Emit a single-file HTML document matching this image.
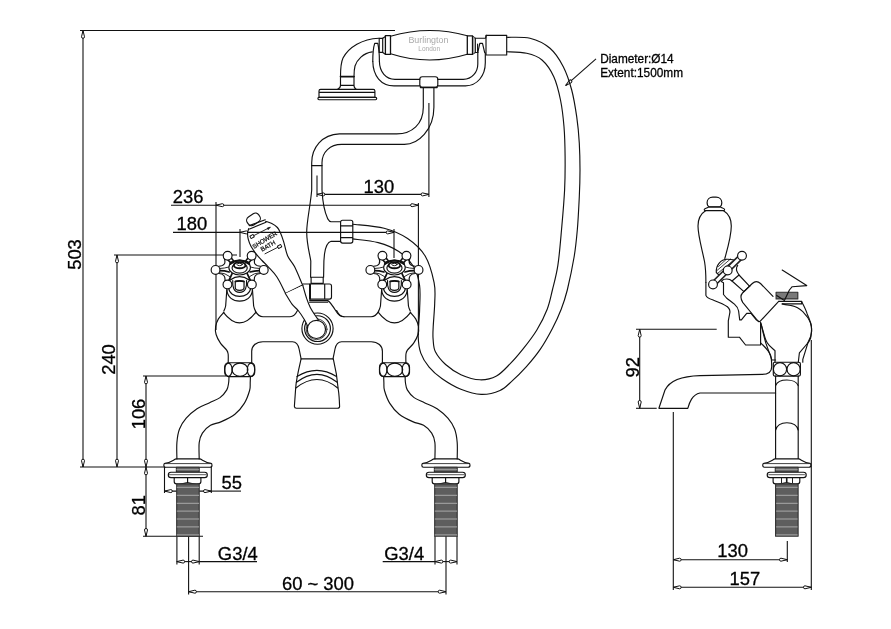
<!DOCTYPE html>
<html><head><meta charset="utf-8">
<style>
html,body{margin:0;padding:0;background:#fff;width:891px;height:629px;overflow:hidden}
svg{display:block;will-change:transform}
text{font-family:"Liberation Sans",sans-serif;fill:#000}
</style></head>
<body>
<svg width="891" height="629" viewBox="0 0 891 629">
<defs>
<marker id="ar" viewBox="-9 -3 10 6" refX="0" refY="0" markerWidth="10" markerHeight="6" markerUnits="userSpaceOnUse" orient="auto-start-reverse">
<path d="M0,0 L-6.3,-1.5 A1.5,1.5 0 0 0 -6.3,1.5 Z" fill="#fff" stroke="#111" stroke-width="1"/>
</marker>
</defs>
<g id="dims" fill="none" stroke="#111" stroke-width="1.1">
<!-- 503 -->
<path d="M80,30.5 H395"/>
<path d="M83,30.5 V467" marker-start="url(#ar)" marker-end="url(#ar)"/>
<path d="M80,467 H166"/>
<!-- 240 -->
<path d="M114,255 H237"/>
<path d="M117,255 V467" marker-start="url(#ar)" marker-end="url(#ar)"/>
<!-- 106 / 81 -->
<path d="M143,376 H226"/>
<path d="M146,376 V467" marker-start="url(#ar)" marker-end="url(#ar)"/>
<path d="M146,467 V536.3" marker-start="url(#ar)" marker-end="url(#ar)"/>
<path d="M143,536.3 H203"/>
<!-- 236 -->
<path d="M171,205.2 H216"/>
<path d="M216,205.2 H418.4" marker-start="url(#ar)" marker-end="url(#ar)"/>
<path d="M216,202 V330"/>
<path d="M418.4,203 V335"/>
<!-- 180 -->
<path d="M173,232.4 H240"/>
<path d="M240,232.4 H394" marker-start="url(#ar)" marker-end="url(#ar)"/>
<path d="M240,229 V257"/>
<path d="M394,229 V258"/>
<!-- 130 top -->
<path d="M317,194.4 H428.9" marker-start="url(#ar)" marker-end="url(#ar)"/>
<path d="M317,175.6 V197"/>
<path d="M428.9,103 V197"/>
<!-- 55 -->
<path d="M164.5,467 V493"/>
<path d="M211.3,467 V493"/>
<path d="M164.5,491.1 H211.3" marker-start="url(#ar)" marker-end="url(#ar)"/>
<path d="M211.3,491.1 H241"/>
<!-- G3/4 left -->
<path d="M176.9,536 V564.4"/>
<path d="M199.2,536 V564.4"/>
<path d="M188.6,536 V594.4"/>
<path d="M176.8,561.6 H199.3" marker-start="url(#ar)" marker-end="url(#ar)"/>
<path d="M199.3,561.6 H257"/>
<!-- G3/4 right -->
<path d="M435,536 V564.4"/>
<path d="M457,536 V564.4"/>
<path d="M446,536 V594.4"/>
<path d="M435,561.6 H457" marker-start="url(#ar)" marker-end="url(#ar)"/>
<path d="M382.7,561.6 H435"/>
<!-- 60~300 -->
<path d="M188.6,591.7 H446" marker-start="url(#ar)" marker-end="url(#ar)"/>
<!-- 92 -->
<path d="M636,329.3 H716.7"/>
<path d="M639.7,329.3 V408.3" marker-start="url(#ar)" marker-end="url(#ar)"/>
<path d="M636,408.3 H656.7"/>
<!-- 130 side / 157 -->
<path d="M673.3,412 V590"/>
<path d="M787.3,541 V562"/>
<path d="M811.3,340 V590"/>
<path d="M673.3,559.7 H787.3" marker-start="url(#ar)" marker-end="url(#ar)"/>
<path d="M673.3,587.3 H811.3" marker-start="url(#ar)" marker-end="url(#ar)"/>
<!-- hose leader -->
<path d="M596,58.9 L565.6,85.6" marker-end="url(#ar)"/>
</g>

<g id="front" fill="none" stroke="#111" stroke-width="1.15" stroke-linejoin="round" stroke-linecap="round">
<!-- handset -->
<path d="M390.5,36.3 Q428.8,25 467.3,35.8"/>
<path d="M390.5,53.8 Q428.8,66 467.3,54.3"/>
<path d="M385.4,35.6 H390.5 V54.3 H385.4 Z" stroke-width="1.3"/>
<path d="M382.7,38.2 L385.4,36.4 M382.7,52.6 L385.4,54.3"/>
<path d="M379.2,38.4 H382.7 V52.4 H379.2 Z"/>
<path d="M467.3,35.8 H472.5 V54.3 H467.3 Z" stroke-width="1.3"/>
<path d="M472.5,36.3 L475.3,38.2 V52.5 L472.5,54.2"/>
<path d="M473.8,37.6 V53" stroke="#999" stroke-width="1.4"/>
<path d="M475.3,38.2 H485.6 L486.3,35.3 M475.3,52.5 H478"/>
<path d="M477.6,52.5 V44"/>
<rect x="486" y="35.3" width="20.7" height="19.7"/>
<text x="428.4" y="43.4" font-size="8.9" text-anchor="middle" stroke="none" style="fill:#aaa">Burlington</text>
<text x="429.2" y="50.7" font-size="6.5" text-anchor="middle" stroke="none" style="fill:#aaa">London</text>
<!-- cradle -->
<path d="M372.8,61.3 C372.8,54 373.5,47 374.7,43.4 H377.8 C378.6,47 379.4,54 379.4,61.3"/>
<path d="M372.8,61.3 C373,76 381,85.8 394,85.8 H419.8 M437.8,85.8 H465.6 C477,85.8 485.3,76 485.3,62.8 V52.8"/>
<path d="M379.4,61.3 C379.5,72 386,79.3 395,79.3 H419.8 M437.8,79.3 H463.3 C472,79.3 477.8,72 477.8,63.9 V52.5 L479.8,43.4 H482.5 L484.7,52.7"/>
<rect x="419.8" y="76.7" width="18" height="10.5" rx="2.5"/>
<path d="M420.5,87.6 H437" stroke-width="1.5"/>
<!-- shower head -->
<path d="M378.9,38.2 C362,39 349,47 343,58 C340.7,63 340.5,70 340.5,76.6"/>
<path d="M372.2,51.9 C363,53 357,60 355,66 C354,70 354,73 354,76.6"/>
<path d="M340.5,76.6 H354" stroke-width="1.6"/>
<path d="M340.5,76.6 V85.3 H354 V76.6 M340.5,85.3 C340.5,87.5 339,88.8 337.6,89.3 M354,85.3 C354,87.5 355,88.8 356.2,89.3"/>
<path d="M320.6,89.3 H373.3 Q374.9,89.3 374.9,91 V97.4 H319 V91 Q319,89.3 320.6,89.3 Z M319,92.3 H374.9"/>
<rect x="317.9" y="97.4" width="58.8" height="2.3" rx="1.1"/>
<!-- riser -->
<path d="M423.3,87.5 V107.2 C423.3,124 412,133.9 396.7,133.9 H339.4 C322,134.4 311.7,148 311.7,162.8 V190 C310.5,205 306.6,222 306.7,232.2 C306.8,244 309.5,253 310.8,261 L310.6,277.2"/>
<path d="M433.9,87.5 V107.2 C433.9,130 418,144.4 404.4,144.4 H341.7 C330,144.4 322,152 322,162.8 V190 C322.5,200 324.5,212 327.8,218.9 C329,221 330,221.7 331.1,221.7 H340.6"/>
<path d="M311.7,165.6 H322" stroke-width="1.3"/>
<path d="M340.6,241.3 H331.1 C328,242 325.5,247 324.5,254 L323.9,261 L323.6,277.2"/>
<rect x="340.6" y="220.2" width="12.2" height="22.9" rx="2"/>
<path d="M340.8,225.8 H352.6 M340.8,237.6 H352.6"/>
<!-- hose -->
<path d="M352.8,238.9 C357.0,239.5 370.5,240.5 378.2,242.6 C385.9,244.7 392.9,247.5 398.8,251.5 C404.7,255.5 410.0,260.8 413.5,266.5 C417.0,272.2 418.6,278.4 419.6,285.6 C420.6,292.9 419.8,301.5 419.6,310.0 C419.4,318.5 418.0,329.3 418.2,336.5 C418.4,343.7 419.0,348.0 420.8,353.1 C422.6,358.2 425.6,362.9 429.1,367.1 C432.6,371.3 436.5,374.8 441.8,378.5 C447.1,382.2 454.3,386.7 460.9,389.3 C467.5,391.9 474.7,394.2 481.2,394.4 C487.7,394.6 494.8,392.8 500.0,390.5 C505.2,388.2 507.8,384.8 512.2,380.9 C516.6,377.0 521.5,372.1 526.2,366.9 C530.9,361.6 535.8,355.8 540.2,349.4 C544.6,343.0 548.9,335.2 552.4,328.5 C555.9,321.8 558.7,315.6 561.2,309.2 C563.7,302.8 565.1,298.7 567.3,290.0 C569.4,281.3 572.4,267.0 574.1,257.0 C575.8,247.0 576.4,240.1 577.3,230.0 C578.2,219.9 578.8,206.7 579.3,196.7 C579.8,186.7 580.0,178.9 580.0,170.0 C580.0,161.1 579.8,152.2 579.3,143.3 C578.8,134.4 578.0,125.6 576.7,116.7 C575.4,107.8 573.9,98.3 571.7,90.0 C569.5,81.7 566.9,73.7 563.3,66.7 C559.7,59.8 555.5,53.0 550.0,48.3 C544.5,43.6 537.2,40.1 530.0,38.3 C522.8,36.5 510.6,37.5 506.7,37.3"/>
<path d="M352.8,224.2 C358.0,224.9 375.0,225.8 384.1,228.2 C393.2,230.6 400.7,233.8 407.6,238.5 C414.5,243.2 420.9,248.8 425.3,256.2 C429.7,263.6 432.5,274.8 434.1,282.6 C435.7,290.4 434.9,295.8 434.7,303.2 C434.5,310.6 433.5,320.8 433.2,326.8 C432.9,332.8 432.7,334.9 433.1,339.1 C433.5,343.3 433.3,347.6 435.4,351.8 C437.5,356.0 441.4,360.7 445.6,364.5 C449.9,368.3 455.2,372.1 460.9,374.7 C466.6,377.2 474.1,379.6 480.0,379.8 C485.9,380.0 491.4,378.7 496.5,376.0 C501.6,373.3 506.1,367.8 510.5,363.4 C514.9,359.0 518.3,354.9 522.7,349.4 C527.1,343.9 532.6,336.9 536.7,330.2 C540.8,323.5 544.6,315.9 547.2,309.2 C549.8,302.5 550.6,297.3 552.4,290.0 C554.2,282.7 556.4,275.2 557.9,265.2 C559.4,255.2 560.4,242.5 561.5,230.0 C562.6,217.5 564.0,202.2 564.6,190.0 C565.2,177.8 565.2,167.2 565.1,156.7 C565.0,146.1 564.8,136.2 564.0,126.7 C563.2,117.2 562.2,108.3 560.5,100.0 C558.8,91.7 556.9,83.4 553.8,76.7 C550.7,70.0 546.5,63.9 542.0,60.0 C537.5,56.1 532.6,54.7 526.7,53.3 C520.8,51.9 510.0,52.0 506.7,51.8"/>
<!-- stem ring + diverter nut -->
<rect x="311.1" y="277.2" width="12.1" height="6.1"/>
<path d="M309.6,284 H329.5 Q331.5,284 331.5,286 V297.1 Q331.5,299.1 329.5,299.1 H309.6 Z M324.7,284 V299.1 M302.8,284 H309.6"/>
<path d="M310.1,284.3 V298.8" stroke-width="1.8"/>
<path d="M309.6,300.6 H327.7 M309.6,302.2 H327.7"/>
<path d="M327.7,300.6 C330,301.5 333.5,307 336.6,312 C338,314.5 340,316.7 344,316.7"/>
<!-- diverter lever -->
<rect x="246.6" y="214.6" width="13.8" height="9.6" rx="4" transform="rotate(-34 253.5 219.4)"/>
<path d="M249.2,225.6 L265.2,219.8 M249.6,229 L266,222.2"/>
<path d="M248.7,228.6 C248.5,229.3 247.7,231.2 247.6,233.0 C247.5,234.8 247.7,237.2 248.3,239.4 C248.9,241.7 249.7,244.0 251.1,246.5 C252.5,249.0 254.7,252.0 256.5,254.3 C258.3,256.6 260.1,258.4 262.0,260.5 C263.9,262.6 265.5,263.8 268.0,266.6 C270.5,269.4 274.2,272.8 277.1,277.2 C280.0,281.6 284.0,290.5 285.4,293.1"/>
<path d="M265.6,221.3 C266.6,221.7 269.8,222.5 271.8,223.5 C273.8,224.5 275.9,225.9 277.4,227.5 C278.8,229.1 279.4,230.6 280.5,233.0 C281.6,235.4 282.5,238.0 283.7,241.8 C284.9,245.6 285.9,251.9 287.7,256.0 C289.5,260.1 292.0,261.7 294.5,266.6 C297.0,271.5 301.4,282.4 302.8,285.5"/>
<path d="M285.4,293.5 L301.6,285.5"/>
<circle cx="317.5" cy="328.6" r="15.6"/>
<circle cx="317.5" cy="328.6" r="12.9"/>
<circle cx="316.6" cy="329.2" r="10.4" stroke-width="0.8"/>
<path d="M285.4,293.5 C286.5,295.3 290.1,301.6 292.2,304.4 C294.3,307.2 296.2,308.0 298.2,310.5 C300.2,313.0 302.6,316.7 304.3,319.5 C306.0,322.3 307.5,325.8 308.1,327.1 L318.6,320.3 L318.6,320.3 C318.0,319.4 316.3,317.1 314.9,315.0 C313.5,312.9 311.7,310.3 310.3,307.5 C308.9,304.7 307.9,302.1 306.6,298.4 C305.4,294.7 303.4,287.6 302.8,285.5 Z" fill="#fff" stroke="none"/>
<path d="M285.4,293.5 C286.5,295.3 290.1,301.6 292.2,304.4 C294.3,307.2 296.2,308.0 298.2,310.5 C300.2,313.0 302.6,316.7 304.3,319.5 C306.0,322.3 307.5,325.8 308.1,327.1"/>
<path d="M302.8,285.5 C303.4,287.6 305.4,294.7 306.6,298.4 C307.9,302.1 308.9,304.7 310.3,307.5 C311.7,310.3 313.5,312.9 314.9,315.0 C316.3,317.1 318.0,319.4 318.6,320.3"/>
<circle cx="316.4" cy="329.4" r="9.1" fill="#fff"/>
<g stroke="none" fill="#222" font-size="6.3" style="stroke:#111;stroke-width:0.25;letter-spacing:-0.1px">
<text transform="translate(264.5,239.6) rotate(-31)" text-anchor="middle" dominant-baseline="central">SHOWER</text>
<text transform="translate(267.8,245.6) rotate(-29)" text-anchor="middle" dominant-baseline="central">BATH</text>
</g>
<path d="M254,235.5 L269.5,227.6 M265,253.8 L277.6,247.4" stroke-width="0.9"/>
<rect x="250.3" y="235.2" width="3.6" height="2.6" transform="rotate(-28 252.1 236.5)" stroke-width="0.9"/>
<rect x="277.8" y="245.2" width="3.6" height="2.6" transform="rotate(-28 279.6 246.5)" stroke-width="0.9"/>
<path d="M270.2,227.2 L267.2,228 L268,229.5 Z" fill="#111" stroke-width="0.6"/>
<!-- cross handle (local) -->
<defs>
<g id="xh">
<path d="M-12.8,22 L-14,38.5 Q-14.5,41 -15.8,43.5 M12.8,22 L14,38.5 Q14.5,41 15.8,43.5"/>
<path d="M-12.8,22.3 C-12.3,30 -6.5,33.6 0,33.6 C6.5,33.6 12.3,30 12.8,22.3"/>
<path d="M-11,20.5 C-10.5,26 -5.5,28.8 0,28.8 C5.5,28.8 10.5,26 11,20.5"/>
<path d="M-9.5,12.5 Q0,5.8 9.5,12.5" stroke-width="1.4"/>
<path d="M-6.9,13 C-7.4,19 -6,24.8 0,24.8 C6,24.8 7.4,19 6.9,13"/>
<path d="M-4.4,14 Q0,12.8 4.4,14 V20 Q4.4,22.8 0,22.8 Q-4.4,22.8 -4.4,20 Z" stroke-width="1.2"/>
<path d="M-4.2,13.9 Q0,12.7 4.2,13.9" stroke-width="1.8"/>
<path d="M-15.5,-9.5 Q-12.5,-1.5 -21,-1.3 M15.5,-9.5 Q12.5,-1.5 21,-1.3"/>
<path d="M-20.8,6 Q-13.5,6.5 -14.8,14 M20.8,6 Q13.5,6.5 14.8,14"/>
<path d="M-9.2,-4.8 L-13.6,-10 L-10.5,-12.2 L-6,-6.6 Z M9.2,-4.8 L13.6,-10 L10.5,-12.2 L6,-6.6 Z" fill="#fff" stroke-width="1.6"/>
<path d="M-20,1 Q-15,0.8 -10.6,-0.5 M20,1 Q15,0.8 10.6,-0.5 M-20,5.2 Q-14.5,5.5 -10,9 M20,5.2 Q14.5,5.5 10,9" stroke-width="0.9"/>
<path d="M-20,3.2 Q-15,3.2 -10.5,4.5 M20,3.2 Q15,3.2 10.5,4.5" stroke-width="1.7"/>
<path d="M-7.5,6 L-10.8,13.2 M7.5,6 L10.8,13.2" stroke-width="1.8"/>
<ellipse cx="0" cy="0" rx="10.8" ry="7.5" fill="#fff" stroke-width="1.1"/>
<path d="M-9.5,-3.6 Q0,-10.5 9.5,-3.6" stroke-width="2"/>
<ellipse cx="0" cy="0.6" rx="7.6" ry="5"/>
<ellipse cx="0" cy="-2.3" rx="5.8" ry="3" fill="#fff" stroke-width="1.9"/>
<ellipse cx="0" cy="-3" rx="2.6" ry="1.2" stroke-width="0.9"/>
<circle cx="-12" cy="-11.8" r="4.4" fill="#fff"/>
<circle cx="12" cy="-11.8" r="4.4" fill="#fff"/>
<circle cx="-24.1" cy="2.4" r="4.4" fill="#fff"/>
<circle cx="24.1" cy="2.4" r="4.4" fill="#fff"/>
<circle cx="-12.2" cy="17" r="4.4" fill="#fff"/>
<circle cx="12.2" cy="17" r="4.4" fill="#fff"/>
</g>
<g id="valveL">
<path d="M223.9,312.3 C223.0,313.4 219.8,316.5 218.4,318.9 C217.0,321.3 216.0,324.1 215.6,326.7 C215.2,329.3 215.3,331.7 216.1,334.5 C216.9,337.3 218.8,340.8 220.6,343.4 C222.4,346.0 225.4,348.2 226.7,350.1 C228.0,352.0 227.9,352.4 228.2,354.5 C228.4,356.6 228.2,361.3 228.2,362.7"/>
<path d="M223.4,312.3 Q239.6,333.3 255.8,312.3"/>
<path d="M255.4,311.1 C257,314 259.5,316.7 263,316.7 H290 C293,316.7 295.5,314.5 297.5,310.5"/>
<path d="M251.7,362.7 V351.2 C251.7,346 256,341.7 262.9,341.7 H292.5 C296,341.7 298.3,345 299.1,349 L301.1,358.9"/>
</g>
</defs>
<use href="#xh" transform="translate(239.65,267.5)"/>
<use href="#xh" transform="translate(394.45,267.5)"/>
<use href="#valveL"/>
<use href="#valveL" transform="matrix(-1,0,0,1,634.1,0)"/>
<!-- spout -->
<path d="M301.1,358.9 H333.3 M301.1,358.9 C299,368 296,380 295.6,389 C295,398 294.5,404 294.4,406.5 Q294.5,408.2 296.5,408.2 H337.5 Q339.6,408.2 339.6,406.5 C339.4,400 339,394 338.2,389 C337.5,380 335.5,368 333.3,358.9"/>
<path d="M297,376.6 Q317,364 336.5,376.6"/>
<path d="M296.4,382.3 Q317,366.3 337.2,382.3"/>
<path d="M295.9,388 Q317,371 337.7,388"/>
<!-- nuts -->
<g id="nutL">
<rect x="224.7" y="362.7" width="30" height="13.9" rx="4"/>
<ellipse cx="240" cy="369.7" rx="7.9" ry="6.6"/>
<ellipse cx="228.4" cy="369.7" rx="3.7" ry="6.6"/>
<ellipse cx="251" cy="369.7" rx="3.7" ry="6.6"/>
</g>
<use href="#nutL" transform="translate(154.8,0)"/>

<!-- flange + tail (right front) -->
<g id="fl">
<path d="M434.4,458.9 H457.6 C460,459 462,462.5 469,463.3 Q470,463.5 470,465.2 Q470,467.2 468,467.2 H423.5 Q421.8,467.2 421.8,465.2 Q421.8,463.5 423,463.3 C430,462.5 432,459 434.4,458.9 Z" fill="#fff"/>
<path d="M422.5,463.6 H469.3" stroke-width="0.8"/>
<rect x="434.4" y="467.2" width="22.8" height="4.8" fill="#666" stroke="#333"/>
<path d="M434.8,469.6 H456.8" stroke="#aaa" stroke-width="0.8"/>
<rect x="426.3" y="472.2" width="39" height="5.4" rx="2.7" fill="#fff"/>
<path d="M427.5,474.7 H464" stroke-width="0.7"/>
<path d="M432.2,477.6 H458.9 V481.5 Q458.9,483.9 456.5,483.9 Q451,484.3 445.6,482.6 Q440,484.3 434.5,483.9 Q432.2,483.9 432.2,481.5 Z M445.6,477.6 V482.6" fill="#fff"/>
<rect x="434.7" y="483.9" width="22.5" height="52.3" fill="#5e5e5e" stroke="#333"/>
<path d="M435.2,487.3 H456.7 M435.2,495.3 H456.7 M435.2,503.3 H456.7 M435.2,511.1 H456.7 M435.2,519 H456.7 M435.2,526.9 H456.7 M435.2,534.9 H456.7" stroke="#a8a8a8" stroke-width="1"/>
</g>
<use href="#fl" transform="translate(-258,0)"/>
<!-- legs -->
<g id="legL">
<path d="M229.0,376.7 C228.9,377.8 229.0,380.8 228.6,383.0 C228.2,385.2 228.2,387.5 226.8,389.9 C225.4,392.3 222.9,395.4 220.0,397.6 C217.1,399.8 213.0,401.0 209.2,402.9 C205.4,404.8 200.8,406.2 197.0,408.8 C193.2,411.4 189.1,414.8 186.2,418.2 C183.3,421.6 181.1,424.9 179.5,429.0 C177.9,433.1 177.3,437.6 176.9,442.6 C176.5,447.6 176.9,456.3 176.9,459.0"/>
<path d="M250.4,376.7 C250.4,377.8 250.3,380.7 250.2,383.0 C250.1,385.3 250.6,387.1 249.6,390.5 C248.6,393.9 246.8,399.4 244.3,403.4 C241.9,407.3 238.7,411.2 234.9,414.2 C231.1,417.2 225.5,419.8 221.4,421.6 C217.3,423.5 213.7,423.4 210.5,425.3 C207.3,427.2 204.3,430.2 202.4,433.1 C200.5,436.0 199.7,438.3 199.2,442.6 C198.7,446.9 199.2,456.3 199.2,459.0"/>
</g>
<use href="#legL" transform="matrix(-1,0,0,1,634.1,0)"/>
</g>


<g id="side" fill="none" stroke="#111" stroke-width="1.15" stroke-linejoin="round" stroke-linecap="round">
<!-- lever -->
<path d="M709,206.8 C707.5,206.2 707.1,204.2 707.1,202.6 C707.1,199.2 709.6,197.1 712.8,197.1 H716.1 C719.3,197.1 721.8,199.2 721.8,202.6 C721.8,204.2 721.4,206.2 720,206.8 Z"/>
<path d="M708.7,207 H720.5 C722,208 724.6,208.4 724.6,209.5 Q724.6,210.6 723.5,210.6 H705.3 Q704.2,210.6 704.2,209.5 C704.2,208.4 707,208 708.7,207 Z"/>
<path d="M705.8,210.6 C700.5,214 698,219.5 698,226 C698,236 702.3,250 704.6,262 C705.6,268 705.9,276 705.9,282.3"/>
<path d="M723.3,210.6 C728.8,214 731.3,219.5 731.3,226 C731.3,236 727.5,249 724.8,258.5"/>
<!-- cross -->
<path d="M716.3,272.5 C715.8,265 721,259.5 727,259.3 C731,259.2 734.5,259.8 736.8,261 L720,276 Z" fill="#fff"/>
<path d="M718.5,266.5 L726,259.6 M717,270.5 L730.5,259 M717.5,273.5 L734,260" stroke-width="0.8"/>
<path d="M737.7,265.4 C736,267.5 736.4,271.5 739,275"/>
<path d="M713,284.4 L742,255.7" stroke="#222" stroke-width="6.2"/>
<path d="M713,284.4 L742,255.7" stroke="#fff" stroke-width="3"/>
<circle cx="742" cy="255.7" r="4.4" fill="#fff"/>
<circle cx="727.7" cy="270.4" r="4.4" fill="#fff"/>
<circle cx="713" cy="284.4" r="4.4" fill="#fff"/>
<!-- bracket -->
<path d="M705.9,282.3 V295.4 C707,298 710,299 712.5,299.8 C717,301.5 723,303.5 727.4,306.8 C730,309 730.2,312 729.6,314 L728.3,320.8 V337.2 H739.4 L745.6,345 H760.6 V322.2"/>
<path d="M721.3,281.4 L723.5,282.7 V294.5 L726.5,298 C729,300 732,302 734.4,304.2 C737,306.5 738.3,308 738.6,311 L739.7,319.9 H741.4 L746.7,313.3 H751 L756.3,319.9 L758.9,321.7"/>
<path d="M722,280.5 C724,278.5 729.5,278.3 732,281"/>
<path d="M732,281 L743.7,291.4 M739,275 L749.7,286.4 M732,281 L739,275"/>
<!-- valve body -->
<path d="M773,296.3 L760.5,283.5 Q756.3,279.8 752.3,283.5 L742.5,293 Q739.3,296.5 742.7,302.4 L756.3,319 Q758,321.5 759.8,321.7 L778.9,301.1"/>
<path d="M743.6,291.9 L749.7,286.2"/>
<!-- cap -->
<rect x="776.1" y="292.2" width="21.7" height="6.7" fill="#7a7a7a" stroke="#333"/>
<path d="M776.5,299.5 H795.6" stroke="#999" stroke-width="1.2"/>
<path d="M779.4,301.4 H801.7 V303.9 H782.2" />
<path d="M782.2,270 L806.7,285.6 L792.2,286.7 L789.4,290 L784.4,300.6 L776.7,295.6"/>
<!-- ball body -->
<path d="M782.2,303.9 C786,305 790,305.2 791.7,305.6 C796,306.5 800,309 802.8,311.7 C806,315 809,319 810.6,322.8 C812,326 811.7,332 810.6,338.3 C809.5,341.5 808,343 806.1,345 L799.4,352.8 L798.3,362.2"/>
<path d="M801.7,301.7 C804,306 806,310 807.2,313.9 C810,320 811.7,326 811.7,331 C811.5,335 810,339 808.3,341.7 L802.8,359.4 V362.2"/>
<path d="M760.6,322.8 C762,327 763,331 763.9,333.9 C765,338 766,341 767.2,342.8 C769,346 772,348 775,350.6 V362.2"/>
<path d="M761.1,323.9 C762.5,330 764,337 766.1,343.9 L771.7,359.4"/>
<!-- spout -->
<path d="M760.6,342.8 C764,346 768.9,351 770.5,355 C771.5,358 771.7,362 771.7,366.7 C771.7,371.5 768,374.4 762,374.4 L700,375.6 C683,376 670,380 665,390 L658.9,408.3 H687.8 C689.5,402.5 692,394.8 700,393 H775.6"/>
<path d="M771.7,360 H775.6"/>
<!-- side nut -->
<rect x="773.3" y="362.2" width="27.1" height="13.9" rx="1.5"/>
<circle cx="780" cy="369.2" r="6.6"/>
<circle cx="793.6" cy="369.2" r="6.6"/>
<!-- pillar -->
<path d="M775.6,376.1 V458.9 M798.2,376.1 V458.9"/>
<path d="M775.6,385.6 C777,382 782,380 786.9,380 C792,380 797,382 798.2,385.6"/>
<path d="M775.6,430 C777,425 782,422.7 786.9,422.7 C792,422.7 797,425 798.2,430"/>
</g>
<g fill="none" stroke="#111" stroke-width="1.15" stroke-linejoin="round"><use href="#fl" transform="translate(340.9,0)"/></g>
<path d="M781.5,477.8 V483 M787,477.8 V483 M792.5,477.8 V483" stroke="#222" stroke-width="1"/>

<g id="txt" font-size="18.4" style="stroke:#000;stroke-width:0.3">
<text transform="translate(81.3,254.5) rotate(-90)" text-anchor="middle">503</text>
<text transform="translate(115.3,359.5) rotate(-90)" text-anchor="middle">240</text>
<text transform="translate(144.6,414) rotate(-90)" text-anchor="middle">106</text>
<text transform="translate(144.6,505.3) rotate(-90)" text-anchor="middle">81</text>
<text x="188.2" y="203.3" text-anchor="middle">236</text>
<text x="191.8" y="230.3" text-anchor="middle">180</text>
<text x="378.9" y="192.7" text-anchor="middle">130</text>
<text x="231.7" y="488.9" text-anchor="middle">55</text>
<text x="237.8" y="559.8" text-anchor="middle">G3/4</text>
<text x="404.2" y="559.8" text-anchor="middle">G3/4</text>
<text x="318" y="590" text-anchor="middle">60 ~ 300</text>
<text transform="translate(639,367.3) rotate(-90)" text-anchor="middle">92</text>
<text x="732.7" y="557.3" text-anchor="middle">130</text>
<text x="744.8" y="584.7" text-anchor="middle">157</text>
<text x="600.2" y="63.2" font-size="12.6" textLength="73.5" lengthAdjust="spacingAndGlyphs">Diameter:Ø14</text>
<text x="600.2" y="77.1" font-size="12.6" textLength="82.8" lengthAdjust="spacingAndGlyphs">Extent:1500mm</text>
</g>
</svg>
</body></html>
